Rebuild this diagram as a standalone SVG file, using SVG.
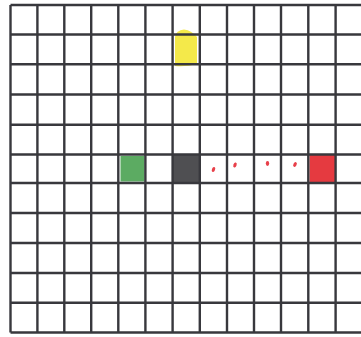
<svg xmlns="http://www.w3.org/2000/svg" width="361" height="337" viewBox="0 0 361 337">
<style>
.g{stroke:#38383d;stroke-width:2.4;fill:none}
.dot{fill:#e8404a}
</style>
<rect width="361" height="337" fill="#ffffff"/>
<g id="cell-yellow"><path d="M175,37 Q176,30 184,29.5 Q192,30.5 197,37 L197,64 Q186,67 175,66 Z" fill="#f4e94a"/></g>
<g id="cell-green"><rect x="120.5" y="156" width="24" height="25.5" fill="#5cab62"/></g>
<g id="cell-dark"><rect x="173" y="155" width="27" height="27.5" fill="#4f4f52"/></g>
<g id="cell-red"><rect x="309.5" y="155" width="26.5" height="27" fill="#e53a40"/></g>
<g id="connectors">
<ellipse class="dot" cx="213.5" cy="169.5" rx="1.6" ry="2.6" transform="rotate(20 213.5 169.5)"/>
<ellipse class="dot" cx="235" cy="165" rx="1.6" ry="2.6" transform="rotate(20 235 165)"/>
<ellipse class="dot" cx="267.5" cy="163.5" rx="1.7" ry="2.4"/>
<ellipse class="dot" cx="295" cy="164.5" rx="1.6" ry="2.6" transform="rotate(25 295 164.5)"/>
</g>
<g id="grid" class="g">
<path d="M10.5,5V332.5M37.4,5V332.5M64.3,5V332.5M91.2,5V332.5M118.3,5V332.5M145.4,5V332.5M172.6,5V332.5M199.8,5V332.5M227,5V332.5M254,5V332.5M281,5V332.5M308.3,5V332.5M335.6,5V332.5"/>
<path d="M10.5,5H361M10.5,34.5H361M10.5,64.3H361M10.5,94.5H361M10.5,124.8H361M10.5,154.5H361M10.5,183H361M10.5,213H361M10.5,243H361M10.5,273H361M10.5,302.7H361M10.5,332.5H361"/>
</g>
</svg>
